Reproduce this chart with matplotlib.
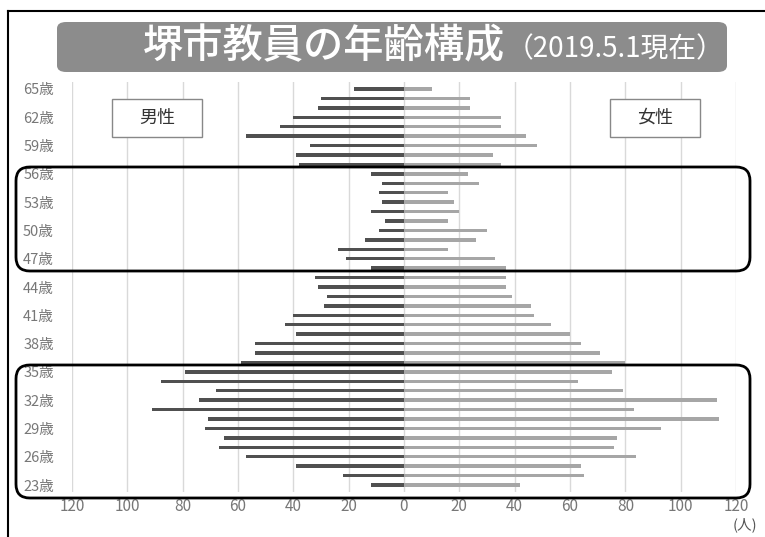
import matplotlib
matplotlib.use("Agg")
import matplotlib.pyplot as plt
from matplotlib.patches import FancyBboxPatch, Rectangle
import numpy as np

plt.rcParams['font.family'] = ['Noto Sans CJK JP', 'DejaVu Sans']

ages = list(range(23, 66))
# values listed from age 23 up to age 65
male = [12, 22, 39, 57, 67, 65, 72, 71, 91, 74, 68, 88, 79, 59, 54, 54, 39, 43, 40,
        29, 28, 31, 32, 12, 21, 24, 14, 9, 7, 12, 8, 9, 8, 12, 38, 39, 34, 57, 45, 40, 31, 30, 18]
female = [42, 65, 64, 84, 76, 77, 93, 114, 83, 113, 79, 63, 75, 80, 71, 64, 60, 53, 47,
          46, 39, 37, 37, 37, 33, 16, 26, 30, 16, 20, 18, 16, 27, 23, 35, 32, 48, 44, 35, 35, 24, 24, 10]
age_ticks = [23, 26, 29, 32, 35, 38, 41, 44, 47, 50, 53, 56, 59, 62, 65]
x_ticks = [-120, -100, -80, -60, -40, -20, 0, 20, 40, 60, 80, 100, 120]

W, H = 765, 537
fig = plt.figure(figsize=(W / 100, H / 100), dpi=100)

def fx(px):
    return px / W

def fy(py):
    return 1 - py / H

ax = fig.add_axes([fx(72), fy(492), fx(736) - fx(72), fy(82) - fy(492)])
y = np.array(ages)
ax.barh(y, -np.array(male), height=0.36, color='#505050', zorder=3)
ax.barh(y, female, height=0.36, color='#a6a6a6', zorder=3)
ax.set_xlim(-120, 120)
ax.set_ylim(22.26, 65.74)
ax.set_xticks(x_ticks)
ax.set_xticklabels([str(abs(v)) for v in x_ticks], color='#777777', fontsize=11)
ax.set_yticks(age_ticks)
ax.set_yticklabels([f'{a}歳' for a in age_ticks], color='#777777', fontsize=10.5)
ax.tick_params(length=0, pad=4)
ax.tick_params(axis='y', pad=13)
for s in ax.spines.values():
    s.set_visible(False)
ax.grid(axis='x', color='#d9d9d9', linewidth=1, zorder=0)
ax.set_axisbelow(True)

# outer frame
fig.add_artist(plt.Line2D([fx(8), fx(8)], [fy(537), fy(11)], color='black', lw=1.5))
fig.add_artist(plt.Line2D([fx(8), fx(765)], [fy(11), fy(11)], color='black', lw=1.5))

# title box
tb = FancyBboxPatch((fx(57), fy(72)), fx(727) - fx(57), fy(22) - fy(72),
                    boxstyle='round,pad=0,rounding_size=0.012',
                    transform=fig.transFigure, facecolor='#8c8c8c', edgecolor='none')
fig.add_artist(tb)
fig.text(fx(505), fy(47), '堺市教員の年齢構成', color='white', fontsize=29,
         ha='right', va='center', fontweight='medium')
fig.text(fx(506), fy(49), '（2019.5.1現在）', color='white', fontsize=20,
         ha='left', va='center')

# legend boxes
for x0, label in [(112, '男性'), (610, '女性')]:
    r = Rectangle((fx(x0), fy(137)), fx(90), fy(99) - fy(137), transform=fig.transFigure,
                  facecolor='white', edgecolor='#888888', lw=1, zorder=5)
    fig.add_artist(r)
    fig.text(fx(x0 + 45), fy(118), label, ha='center', va='center', fontsize=13,
             color='#333333', zorder=6)

# highlight rounded boxes
for (y0, y1) in [(167, 271), (365, 498)]:
    p = FancyBboxPatch((fx(16), fy(y1)), fx(750) - fx(16), fy(y0) - fy(y1),
                       boxstyle='round,pad=0,rounding_size=0.018',
                       transform=fig.transFigure, facecolor='none', edgecolor='black',
                       lw=2, mutation_aspect=W / H)
    fig.add_artist(p)

fig.text(fx(745), fy(525), '(人)', ha='center', va='center', fontsize=10.5, color='#555555')

fig.savefig('out.png', dpi=100)
